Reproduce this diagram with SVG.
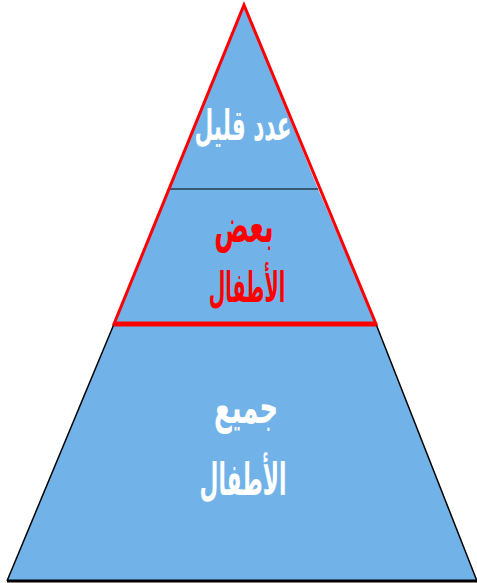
<svg xmlns="http://www.w3.org/2000/svg" width="477" height="583" viewBox="0 0 477 583">
<style>
.fill{fill:#71B3E9;}
.blk{fill:none;stroke:#000;stroke-width:1.5;}
.lbl{font-family:"DejaVu Sans",sans-serif;font-weight:bold;text-anchor:middle;}
.w{fill:#fff;}
.r{fill:#f00;}
</style>
<rect width="477" height="583" fill="#fff"/>
<g id="level-bottom">
<polygon class="fill" points="114,324 376,324 477,581 7,581"/>
<polyline class="blk" points="114,324 7,581"/>
<polyline class="blk" points="376,324 477,581"/>
<line x1="7" y1="581" x2="477" y2="581" stroke="#000" stroke-width="3"/>
<text class="lbl w" font-size="33" transform="translate(246,423) scale(0.78,1.4)">جميع</text>
<text class="lbl w" font-size="33" transform="translate(243,495) scale(0.66,1.35)">الأطفال</text>
</g>
<g id="level-middle">
<polygon class="fill" points="170,189 318,189 376,324 114,324"/>
<text class="lbl r" font-size="31" transform="translate(244,242) scale(0.83,1.5)">بعض</text>
<text class="lbl r" font-size="31" transform="translate(247,302) scale(0.62,1.35)">الأطفال</text>
</g>
<g id="level-top">
<polygon class="fill" points="244,5 318,189 170,189"/>
<text class="lbl w" font-size="27" transform="translate(243,140) scale(0.8,1.55)">عدد قليل</text>
</g>
<g id="connectors">
<line x1="170" y1="189" x2="318" y2="189" stroke="#000" stroke-width="1.2"/>
<polygon points="244,5 376,324 114,324" fill="none" stroke="#f00" stroke-width="3" stroke-linejoin="miter"/>
<line x1="114" y1="324" x2="376" y2="324" stroke="#f00" stroke-width="5"/>
</g>
</svg>
